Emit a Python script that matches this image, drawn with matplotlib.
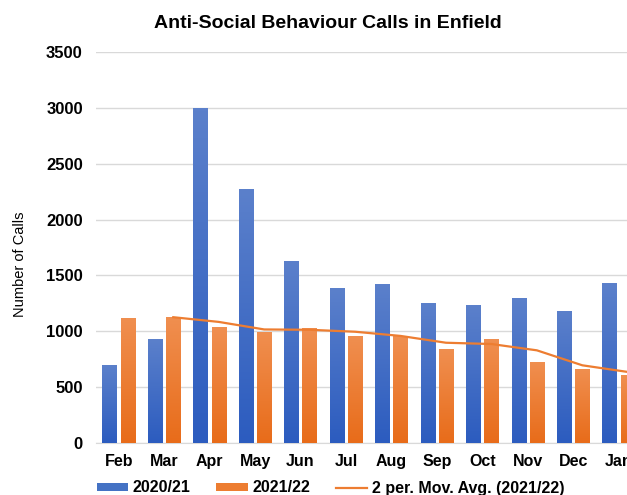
import numpy as np
import pandas as pd
import matplotlib.pyplot as plt
from matplotlib.colors import LinearSegmentedColormap

plt.rcParams['font.family'] = ['Liberation Sans', 'DejaVu Sans']

months = ['Feb', 'Mar', 'Apr', 'May', 'Jun', 'Jul', 'Aug', 'Sep', 'Oct', 'Nov', 'Dec', 'Jan']
calls_2021 = [695, 928, 2995, 2272, 1633, 1385, 1422, 1252, 1233, 1302, 1183, 1428]
calls_2122 = [1120, 1132, 1036, 997, 1030, 962, 955, 840, 932, 727, 664, 608]

mov_avg = pd.Series(calls_2122).rolling(2).mean()

fig = plt.figure(figsize=(6.27, 4.95), dpi=100)
ax = fig.add_axes([96/627, (495-443)/495, 545.4/627, 391/495])

x = np.arange(len(months))
w = 0.315
off = 0.2

blue_cm = LinearSegmentedColormap.from_list('b', ['#2c5cbf', '#5b80cb'])
orange_cm = LinearSegmentedColormap.from_list('o', ['#e86c1a', '#f08f50'])
grad = np.linspace(0, 1, 100).reshape(-1, 1)

b1 = ax.bar(x - off, calls_2021, w, color='#4472c4', label='2020/21', zorder=2)
b2 = ax.bar(x + off, calls_2122, w, color='#ed7d31', label='2021/22', zorder=2)

# gradient fill over the bars, like the Excel original
for bars, cm in [(b1, blue_cm), (b2, orange_cm)]:
    for p in bars:
        x0, y0 = p.get_x(), p.get_y()
        im = ax.imshow(grad, cmap=cm, origin='lower', aspect='auto',
                       extent=[x0, x0 + p.get_width(), y0, y0 + p.get_height()], zorder=3)
        im.set_clip_path(p)

ax.plot(x + off, mov_avg, color='#ed7d31', lw=1.6, zorder=4,
        label='2 per. Mov. Avg. (2021/22)')

ax.set_xlim(-0.5, 11.5)
ax.set_ylim(0, 3500)
ax.set_yticks(np.arange(0, 3501, 500))
ax.set_xticks(x)
ax.set_xticklabels(months)
ax.grid(axis='y', color='#d9d9d9', lw=1, zorder=0)
for s in ['top', 'right', 'left']:
    ax.spines[s].set_visible(False)
ax.spines['bottom'].set_color('#d9d9d9')
ax.tick_params(length=0)
ax.tick_params(axis='y', pad=9.5, labelsize=12)
ax.tick_params(axis='x', pad=8, labelsize=11.5)
for t in ax.get_yticklabels() + ax.get_xticklabels():
    t.set_fontweight('bold')

fig.text(20/627, 1 - 264/495, 'Number of Calls', rotation=90, ha='center', va='center', fontsize=10.5)
fig.text(328/627, 1 - 24/495, 'Anti-Social Behaviour Calls in Enfield', ha='center', va='center',
         fontsize=14, fontweight='bold')

h, l = ax.get_legend_handles_labels()
order = [1, 2, 0]
leg = fig.legend([h[i] for i in order], [l[i] for i in order], loc='center left',
                 bbox_to_anchor=(89/627, 1 - 488/495), ncol=3, frameon=False, borderpad=0,
                 handlelength=1.95, handleheight=0.37, columnspacing=1.6, handletextpad=0.3,
                 prop={'weight': 'bold', 'size': 11.5})

plt.savefig('out.png', dpi=100)
